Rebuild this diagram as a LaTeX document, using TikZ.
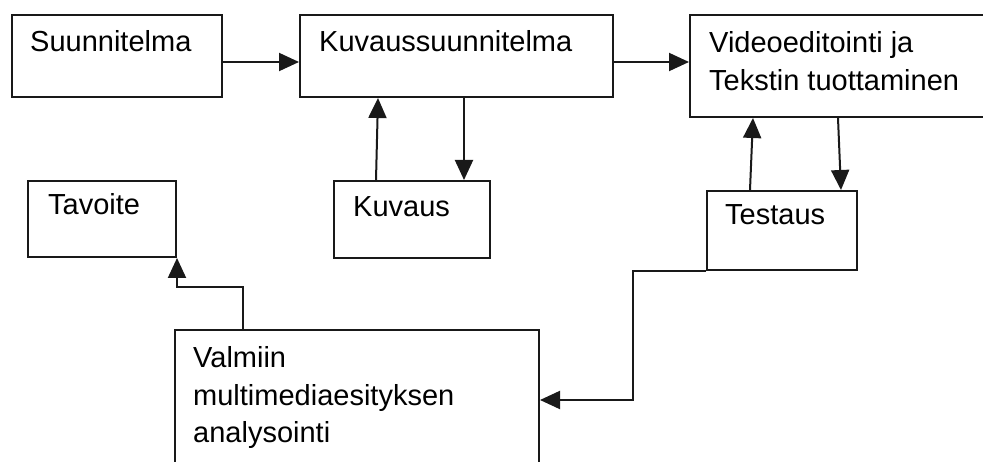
\documentclass[tikz,border=0pt]{standalone}
\usepackage{fontspec}
\setmainfont{Liberation Sans}
\usetikzlibrary{arrows.meta}
\begin{document}
\begin{tikzpicture}[x=1pt,y=-1pt,
  box/.style={draw=black!90, line width=2pt, inner sep=0pt, anchor=north west},
  lbl/.style={anchor=base west, inner sep=0pt, font=\fontsize{29}{37.5}\selectfont},
  arr/.style={draw=black!90, line width=2pt, -{Triangle[length=20pt,width=18pt]}}]
\useasboundingbox (0,0) rectangle (983,462);
\clip (0,0) rectangle (983,462);
% boxes
\node[box, minimum width=210pt, minimum height=82pt] (s) at (11,14) {};
\node[box, minimum width=313pt, minimum height=82pt] (k) at (299,14) {};
\node[box, minimum width=301pt, minimum height=102pt] (v) at (689,14) {};
\node[box, minimum width=156pt, minimum height=77pt] (ku) at (333,180) {};
\node[box, minimum width=150pt, minimum height=79pt] (t) at (706,190) {};
\node[box, minimum width=148pt, minimum height=76pt] (ta) at (27,180) {};
\node[box, minimum width=364pt, minimum height=141pt] (va) at (174,329) {};
% texts
\node[lbl] (st) at (30,52) {Suunnitelma};
\node[lbl] (kt) at (319,52) {Kuvaussuunnitelma};
\node[lbl] (vtx) at (709,53) {\vtop{\hbox{Videoeditointi ja}\hbox{Tekstin tuottaminen}}};
\node[lbl] (kut) at (353,217) {Kuvaus};
\node[lbl] (tt) at (725,225) {Testaus};
\node[lbl] (tat) at (48,215) {Tavoite};
\node[lbl] (vat) at (193,368) {\vtop{\hbox{Valmiin}\hbox{multimediaesityksen}\hbox{analysointi}}};
% connectors
\draw[arr] ([yshift=-6pt]s.east) -- ([yshift=-6pt]k.west);
\draw[arr] ([yshift=-6pt]k.east) -- ([yshift=4pt]v.west);
\draw[arr] ([xshift=-36pt]ku.north) -- ([xshift=-78.5pt]k.south);
\draw[arr] ([xshift=7.5pt]k.south) -- ([xshift=52pt]ku.north);
\draw[arr] ([xshift=-32pt]t.north) -- ([xshift=-87.5pt]v.south);
\draw[arr] ([xshift=-2.5pt]v.south) -- ([xshift=59pt]t.north);
\coordinate (c1) at ([xshift=-114pt,yshift=42pt]va.north);
\draw[arr] ([xshift=-114pt]va.north) -- (c1) -| (ta.south east);
\coordinate (c2) at ([xshift=-73pt]t.south west);
\draw[arr] (t.south west) -- (c2) |- ([yshift=0.5pt]va.east);
\end{tikzpicture}
\end{document}
